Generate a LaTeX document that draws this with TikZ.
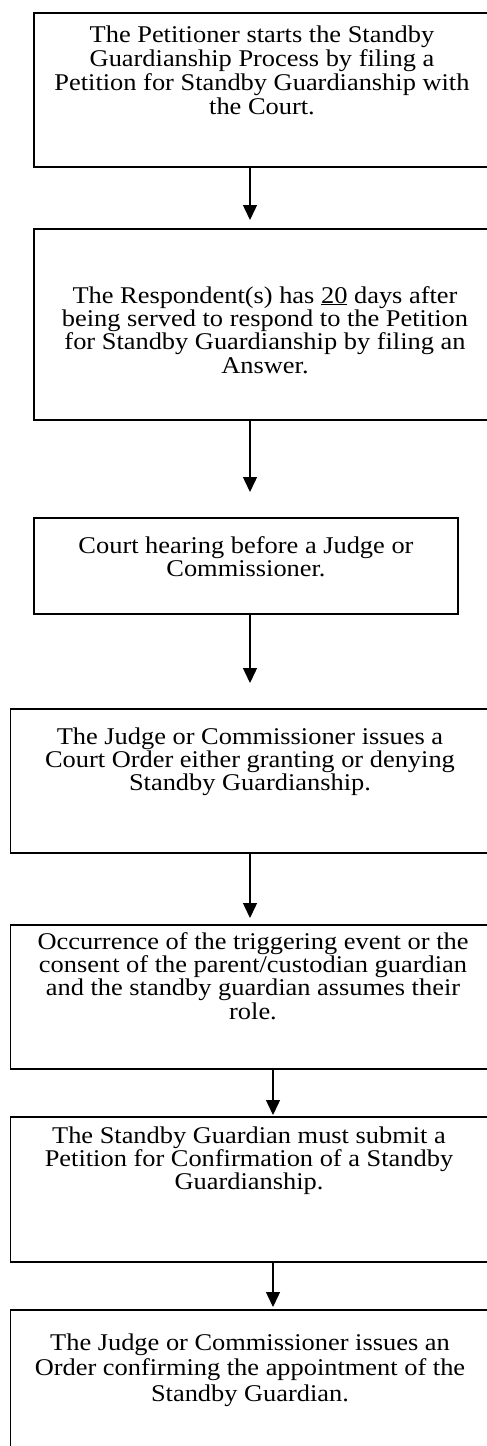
\documentclass[tikz,border=0pt]{standalone}
\usepackage{fontspec}
\setmainfont{Liberation Serif}[FakeStretch=1.1]
\usetikzlibrary{arrows.meta}
\tikzset{
  boxshape/.style={draw, line width=1.6pt, rectangle, inner sep=0pt, anchor=north west},
  txt/.style={inner sep=0pt, anchor=base, font=\fontsize{24}{23.4}\selectfont},
  arr/.style={line width=1.4pt, -{Triangle[width=14pt,length=15pt]}},
}
\newcommand{\boxtext}[1]{\vtop{\hsize=480pt\lineskiplimit=-50pt\centering #1\par}}
\begin{document}
\begin{tikzpicture}[x=1pt,y=-1pt]
\useasboundingbox (0,0) rectangle (487,1446);
\clip (0,0) rectangle (487,1446);
% boxes
\node[boxshape, minimum width=462pt, minimum height=154pt] (b1) at (33,12) {};
\node[boxshape, minimum width=462pt, minimum height=191pt] (b2) at (33,228) {};
\node[boxshape, minimum width=424pt, minimum height=96pt] (b3) at (33,517) {};
\node[boxshape, minimum width=486pt, minimum height=144pt] (b4) at (9.5,708) {};
\node[boxshape, minimum width=486pt, minimum height=144pt] (b5) at (9.5,924) {};
\node[boxshape, minimum width=486pt, minimum height=145pt] (b6) at (9.5,1116) {};
\node[boxshape, minimum width=486pt, minimum height=160pt] (b7) at (9.5,1309) {};
% texts
\node[txt, font=\fontsize{24}{24}\selectfont] (t1) at (262,42) {\boxtext{The Petitioner starts the Standby\\Guardianship Process by filing a\\Petition for Standby Guardianship with\\the Court.}};
\node[txt] (t2) at (265,303) {\boxtext{The Respondent(s) has \underline{20} days after\\being served to respond to the Petition\\for Standby Guardianship by filing an\\Answer.}};
\node[txt] (t3) at (246,553) {\boxtext{Court hearing before a Judge or\\Commissioner.}};
\node[txt] (t4) at (250,744) {\boxtext{The Judge or Commissioner issues a\\Court Order either granting or denying\\Standby Guardianship.}};
\node[txt] (t5) at (253,949) {\boxtext{Occurrence of the triggering event or the\\consent of the parent/custodian guardian\\and the standby guardian assumes their\\role.}};
\node[txt] (t6) at (249,1143) {\boxtext{The Standby Guardian must submit a\\Petition for Confirmation of a Standby\\Guardianship.}};
\node[txt, font=\fontsize{24}{25.5}\selectfont] (t7) at (250,1350) {\boxtext{The Judge or Commissioner issues an\\Order confirming the appointment of the\\Standby Guardian.}};
% arrows
\coordinate (ax) at (250,0);
\coordinate (bx) at (273,0);
\draw[arr, shorten >=8pt] (b1.south -| ax) -- (b2.north -| ax);
\draw[arr, shorten >=25pt] (b2.south -| ax) -- (b3.north -| ax);
\draw[arr, shorten >=25pt] (b3.south -| ax) -- (b4.north -| ax);
\draw[arr, shorten >=6pt] (b4.south -| ax) -- (b5.north -| ax);
\draw[arr, shorten >=1pt] (b5.south -| bx) -- (b6.north -| bx);
\draw[arr, shorten >=2pt] (b6.south -| bx) -- (b7.north -| bx);
\end{tikzpicture}
\end{document}
